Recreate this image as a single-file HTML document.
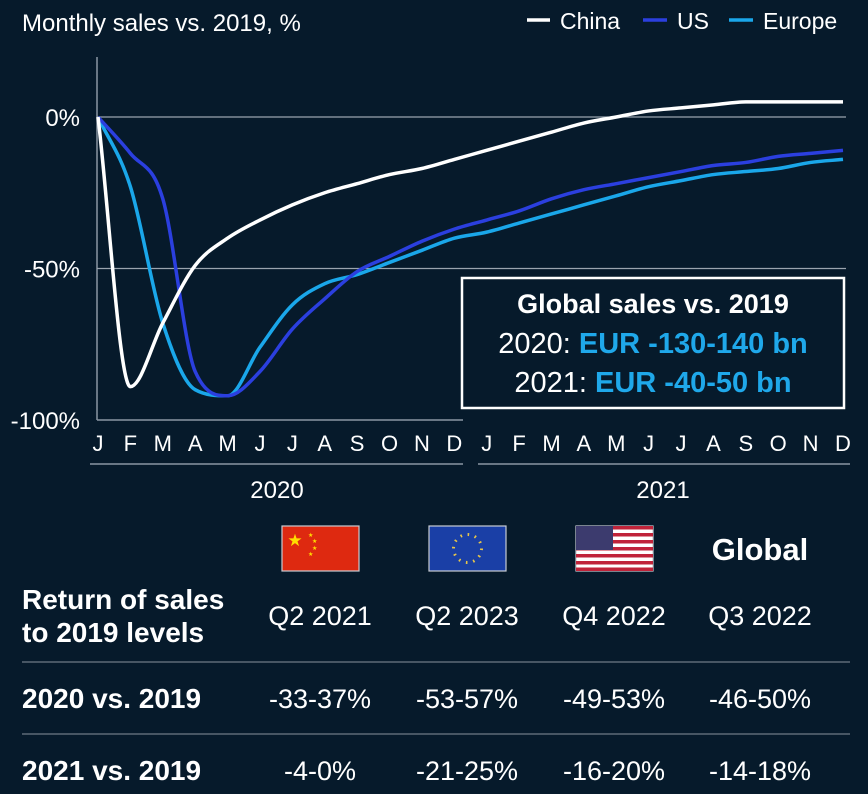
<!DOCTYPE html>
<html><head><meta charset="utf-8"><style>
body{margin:0;background:#061a2b;width:868px;height:794px;overflow:hidden;font-family:"Liberation Sans",sans-serif;color:#fff}
svg{position:absolute;left:0;top:0}
</style></head><body>
<svg width="868" height="794">
<text x="22" y="31" font-size="24" fill="#fff">Monthly sales vs. 2019, %</text>
<g font-size="23" fill="#fff">
<line x1="527" y1="20" x2="550" y2="20" stroke="#fff" stroke-width="3.5"/>
<text x="560" y="29">China</text>
<line x1="643" y1="20" x2="667" y2="20" stroke="#2b3fdf" stroke-width="3.5"/>
<text x="677" y="29">US</text>
<line x1="729" y1="20" x2="753" y2="20" stroke="#1aa7ea" stroke-width="3.5"/>
<text x="763" y="29">Europe</text>
</g>
<g id="axes"></g>
<g id="series"></g>
<rect x="462" y="278" width="382" height="130" fill="#061a2b" stroke="#fff" stroke-width="2.5"/>
<text x="653" y="313" font-size="27" font-weight="bold" text-anchor="middle" fill="#fff">Global sales vs. 2019</text>
<text x="653" y="353" font-size="29" text-anchor="middle" fill="#fff">2020: <tspan fill="#1fa8ea" font-weight="bold">EUR -130-140 bn</tspan></text>
<text x="653" y="392" font-size="29" text-anchor="middle" fill="#fff">2021: <tspan fill="#1fa8ea" font-weight="bold">EUR -40-50 bn</tspan></text>

<line x1="90" y1="464" x2="463" y2="464" stroke="#8a96a3" stroke-width="1.5"/>
<line x1="478" y1="464" x2="850" y2="464" stroke="#8a96a3" stroke-width="1.5"/>
<text x="277" y="498" font-size="24" text-anchor="middle" fill="#fff">2020</text>
<text x="663" y="498" font-size="24" text-anchor="middle" fill="#fff">2021</text>

<g>
<rect x="282" y="526" width="77" height="45" fill="#de2910" stroke="#c9ccd2" stroke-width="1.2"/>
<text x="295" y="546" font-size="17" fill="#ffde00" text-anchor="middle">★</text>
<text x="308" y="537" font-size="6" fill="#ffde00">★</text><text x="312" y="543" font-size="6" fill="#ffde00">★</text>
<text x="312" y="550" font-size="6" fill="#ffde00">★</text><text x="308" y="556" font-size="6" fill="#ffde00">★</text>
</g>
<g>
<rect x="429" y="526" width="77" height="45" fill="#1a3fa6" stroke="#c9ccd2" stroke-width="1.2"/>
<circle cx="467.5" cy="548.5" r="14" fill="none" stroke="#e8c64a" stroke-width="3" stroke-dasharray="1.6 5.73"/>
</g>
<g>
<rect x="576" y="526" width="77" height="45" fill="#fff" stroke="#c9ccd2" stroke-width="1.2"/>
<g fill="#c0233a"><rect x="576" y="526" width="77" height="3.5"/><rect x="576" y="533" width="77" height="3.5"/><rect x="576" y="540" width="77" height="3.5"/><rect x="576" y="547" width="77" height="3.5"/><rect x="576" y="554" width="77" height="3.5"/><rect x="576" y="561" width="77" height="3.5"/><rect x="576" y="567.5" width="77" height="3.5"/></g>
<rect x="576" y="526" width="37" height="24" fill="#3c3b6e"/>
</g>
<text x="760" y="560" font-size="31" font-weight="bold" text-anchor="middle" fill="#fff">Global</text>

<text x="22" y="609" font-size="28" font-weight="bold" fill="#fff">Return of sales</text>
<text x="22" y="642" font-size="28" font-weight="bold" fill="#fff">to 2019 levels</text>
<g font-size="27" text-anchor="middle" fill="#fff">
<text x="320" y="625">Q2 2021</text><text x="467" y="625">Q2 2023</text><text x="614" y="625">Q4 2022</text><text x="760" y="625">Q3 2022</text>
</g>
<line x1="22" y1="662" x2="850" y2="662" stroke="#5d6b78" stroke-width="1.5"/>
<text x="22" y="708" font-size="28" font-weight="bold" fill="#fff">2020 vs. 2019</text>
<g font-size="27" text-anchor="middle" fill="#fff">
<text x="320" y="708">-33-37%</text><text x="467" y="708">-53-57%</text><text x="614" y="708">-49-53%</text><text x="760" y="708">-46-50%</text>
</g>
<line x1="22" y1="734" x2="850" y2="734" stroke="#5d6b78" stroke-width="1.5"/>
<text x="22" y="780" font-size="28" font-weight="bold" fill="#fff">2021 vs. 2019</text>
<g font-size="27" text-anchor="middle" fill="#fff">
<text x="320" y="780">-4-0%</text><text x="467" y="780">-21-25%</text><text x="614" y="780">-16-20%</text><text x="760" y="780">-14-18%</text>
</g>
</svg>
<script>
const months = ["J","F","M","A","M","J","J","A","S","O","N","D","J","F","M","A","M","J","J","A","S","O","N","D"];
const yTicks = [0,-50,-100];
const yTickLabels = ["0%","-50%","-100%"];
const china = [0,-89,-68,-49,-40,-34,-29,-25,-22,-19,-17,-14,-11,-8,-5,-2,0,2,3,4,5,5,5,5];
const us = [0,-12,-27,-84,-92,-84,-70,-60,-51,-46,-41,-37,-34,-31,-27,-24,-22,-20,-18,-16,-15,-13,-12,-11];
const europe = [0,-23,-68,-90,-92,-76,-62,-55,-52,-48,-44,-40,-38,-35,-32,-29,-26,-23,-21,-19,-18,-17,-15,-14];
const NS="http://www.w3.org/2000/svg";
const X0=98, X1=843, Y0=117, YS=3.03;
const xPos=i=>X0+i*(X1-X0)/(months.length-1);
const yPos=v=>Y0-v*YS;
const axes=document.getElementById('axes'), ser=document.getElementById('series');
function mk(tag,attrs,parent){const e=document.createElementNS(NS,tag);for(const k in attrs)e.setAttribute(k,attrs[k]);parent.appendChild(e);return e;}
let yl=mk('line',{x1:97,y1:57,x2:97,y2:yPos(-100),stroke:'#8a96a3','stroke-width':1.5},axes);


let xl=mk('line',{x1:97,y1:yPos(-100),x2:463,y2:yPos(-100),stroke:'#8a96a3','stroke-width':1.5},axes);


yTicks.forEach((t,i)=>{
  if(t>-100){const g=mk('line',{x1:97,y1:yPos(t),x2:846,y2:yPos(t),stroke:'#9aa4ae','stroke-width':1.2},axes);
  
  }
  const tx=mk('text',{x:80,y:yPos(t)+9,'font-size':24,'text-anchor':'end',fill:'#fff'},axes);
  tx.textContent=yTickLabels[i];
  
  
});
months.forEach((m,i)=>{
  const tx=mk('text',{x:xPos(i),y:451,'font-size':22,'text-anchor':'middle',fill:'#fff'},axes);
  tx.textContent=m;
  
  
});
function path(vals){
  const p=vals.map((v,i)=>[xPos(i),yPos(v)]);
  const n=p.length, h=p[1][0]-p[0][0];
  const dlt=[];for(let i=0;i<n-1;i++)dlt.push((p[i+1][1]-p[i][1])/h);
  const m=[dlt[0]];
  for(let i=1;i<n-1;i++){ m.push(dlt[i-1]*dlt[i]<=0?0:(dlt[i-1]+dlt[i])/2); }
  m.push(dlt[n-2]);
  for(let i=0;i<n-1;i++){ if(dlt[i]===0){m[i]=m[i+1]=0;continue;}
    const a=m[i]/dlt[i], b=m[i+1]/dlt[i], s=a*a+b*b;
    if(s>9){const t=3/Math.sqrt(s);m[i]=t*a*dlt[i];m[i+1]=t*b*dlt[i];}}
  let d=`M${p[0][0]},${p[0][1]}`;
  for(let i=0;i<n-1;i++){
    d+=` C${p[i][0]+h/3},${p[i][1]+m[i]*h/3} ${p[i+1][0]-h/3},${p[i+1][1]-m[i+1]*h/3} ${p[i+1][0]},${p[i+1][1]}`;
  }
  return d;
}
[[europe,'#1aa7ea','europe-line'],[us,'#2b3fdf','us-line'],[china,'#ffffff','china-line']].forEach(([v,c,n])=>{
  const el=mk('path',{d:path(v),fill:'none',stroke:c,'stroke-width':3.5,'stroke-linejoin':'round'},ser);
  
  
});
</script>
</body></html>
